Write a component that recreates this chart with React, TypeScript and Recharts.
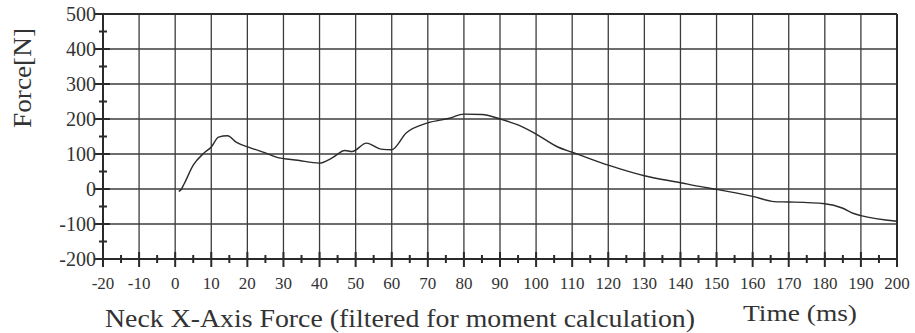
import React from 'react';
import { LineChart, Line, XAxis, YAxis, ReferenceLine, Label } from 'recharts';

const times = [1, 1.6, 2.5, 5, 8, 10, 12, 14.5, 17, 21, 25, 28, 34, 40, 43.5, 47, 49, 53, 57, 60, 64, 70, 76, 80, 85, 90, 95, 100, 106, 110, 115, 120, 127, 130, 140, 146, 150, 160, 166, 170, 180, 185, 188, 190, 200];
const forces = [-7, -2, 15, 68, 103, 120, 148, 152, 133, 117, 103, 91, 82, 74, 89, 110, 107, 131, 114, 112, 160, 189, 202, 214, 213, 200, 183, 157, 120, 105, 86, 68, 46, 38, 18, 6, -1, -21, -36, -37, -42, -55, -70, -76, -92];

const xTicks = [-20, -15, -10, -5, 0, 5, 10, 15, 20, 25, 30, 35, 40, 45, 50, 55, 60, 65, 70, 75, 80, 85, 90, 95, 100, 105, 110, 115, 120, 125, 130, 135, 140, 145, 150, 155, 160, 165, 170, 175, 180, 185, 190, 195, 200];
const yTicks = [-200, -150, -100, -50, 0, 50, 100, 150, 200, 250, 300, 350, 400, 450, 500];
const xGrid = [-10, 0, 10, 20, 30, 40, 50, 60, 70, 80, 90, 100, 110, 120, 130, 140, 150, 160, 170, 180, 190];
const yGrid = [-100, 0, 100, 200, 300, 400];

const yLabel = 'Force[N]';
const xLabel = 'Time (ms)';
const title = 'Neck X-Axis Force (filtered for moment calculation)';

const data = times.map((t, i) => ({ t, f: forces[i] }));

const INK = '#2a2a2a';
const GRID = '#3c3c3c';
const FONT = '"Liberation Serif", "Times New Roman", serif';
const fontStyle = { fontFamily: FONT };

const XTick = (props: any) => {
  const { x, y, payload } = props;
  const v = payload.value;
  const major = v % 10 === 0;
  return (
    <g>
      <line x1={x} x2={x} y1={major ? y - 7 : y - 4} y2={major ? y + 8 : y + 4} stroke={INK} strokeWidth={2} />
      {major && (
        <text x={x} y={y + 30} textAnchor="middle" fontSize={17} style={fontStyle} fill="#333">
          {v}
        </text>
      )}
    </g>
  );
};

const YTick = (props: any) => {
  const { x, y, payload } = props;
  const v = payload.value;
  const major = v % 100 === 0;
  return (
    <g>
      <line x1={major ? x - 8 : x - 4} x2={major ? x + 7 : x + 4} y1={y} y2={y} stroke={INK} strokeWidth={2} />
      {major && (
        <text x={x - 7} y={y} dy="0.35em" textAnchor="end" fontSize={20} style={fontStyle} fill="#333">
          {v}
        </text>
      )}
    </g>
  );
};

const XTitles = () => (
  <g>
    <text x={743} y={321} fontSize={24} style={fontStyle} fill="#333" textLength={114} lengthAdjust="spacingAndGlyphs">
      {xLabel}
    </text>
    <text x={105} y={327} fontSize={25} style={fontStyle} fill="#333" textLength={590} lengthAdjust="spacingAndGlyphs">
      {title}
    </text>
  </g>
);

const YTitle = () => (
  <text
    x={0}
    y={0}
    transform="translate(31,78) rotate(-90)"
    textAnchor="middle"
    fontSize={26}
    style={fontStyle}
    fill="#333"
    textLength={100}
    lengthAdjust="spacingAndGlyphs"
  >
    {yLabel}
  </text>
);

export default function App() {
  return (
    <div style={{ position: 'absolute', left: 0, top: 0, width: 915, height: 333, background: '#fff' }}>
      <LineChart width={915} height={333} data={data} margin={{ top: 14, right: 18, left: 0, bottom: 0 }}>
        {xGrid.map((v) => (
          <ReferenceLine key={'x' + v} x={v} stroke={GRID} strokeWidth={1.3} />
        ))}
        {yGrid.map((v) => (
          <ReferenceLine key={'y' + v} y={v} stroke={GRID} strokeWidth={1.3} />
        ))}
        <ReferenceLine y={500} stroke={INK} strokeWidth={2} />
        <ReferenceLine x={200} stroke={INK} strokeWidth={2} />
        <XAxis
          dataKey="t"
          type="number"
          domain={[-20, 200]}
          ticks={xTicks}
          interval={0}
          height={74}
          tickSize={0}
          tickMargin={0}
          tickLine={false}
          axisLine={{ stroke: INK, strokeWidth: 2 }}
          tick={<XTick />}
          allowDataOverflow
        >
          <Label content={<XTitles />} />
        </XAxis>
        <YAxis
          type="number"
          domain={[-200, 500]}
          ticks={yTicks}
          interval={0}
          width={103}
          tickSize={0}
          tickMargin={0}
          tickLine={false}
          axisLine={{ stroke: INK, strokeWidth: 2 }}
          tick={<YTick />}
          allowDataOverflow
        >
          <Label content={<YTitle />} />
        </YAxis>
        <Line
          type="monotone"
          dataKey="f"
          stroke="#2b2b2b"
          strokeWidth={1.4}
          dot={false}
          isAnimationActive={false}
        />
      </LineChart>
    </div>
  );
}
